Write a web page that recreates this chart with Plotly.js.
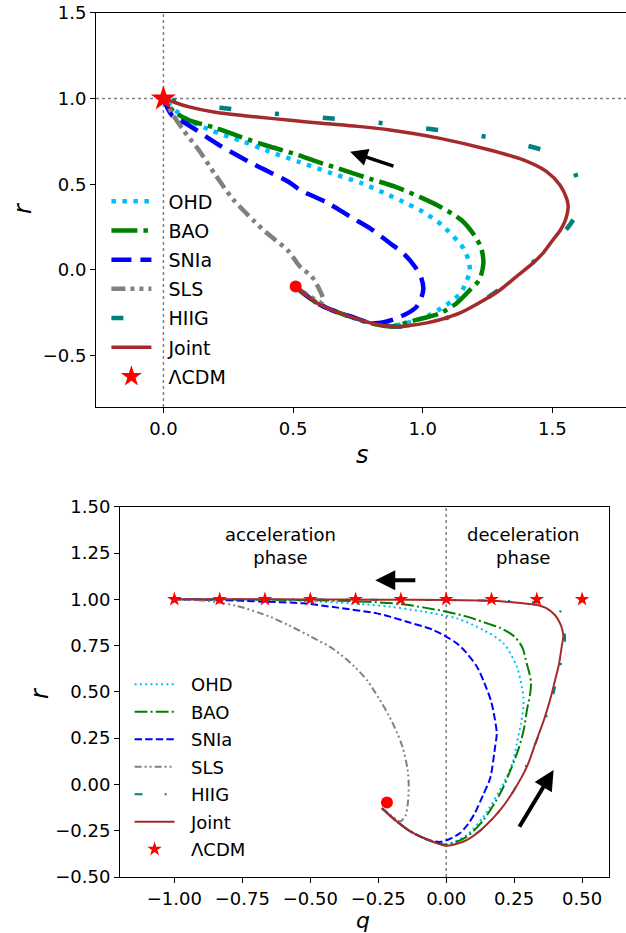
<!DOCTYPE html>
<html>
<head>
<meta charset="utf-8">
<script src="https://cdn.plot.ly/plotly-3.0.1.min.js"></script>
<style>
html,body{margin:0;padding:0;background:#fff;}
#chart{width:626px;height:933px;}
</style>
</head>
<body>
<div id="chart"></div>
<script>
// ---------- Top panel: {s, r} plane ----------
const seriesNames = ['OHD','BAO','SNIa','SLS','HIIG','Joint'];
const lcdmName = 'ΛCDM';

const topS_OHD = [0.509,0.592,0.65,0.72,0.8,0.88,0.95,1.015,1.07,1.118,1.15,1.17,1.182,1.176,1.16,1.137,1.073,1.0,0.924,0.867,0.765,0.649,0.52,0.392,0.308,0.18,0.08,0];
const topR_OHD = [-0.099,-0.193,-0.235,-0.273,-0.31,-0.325,-0.305,-0.272,-0.225,-0.175,-0.127,-0.06,-0.01,0.058,0.12,0.165,0.263,0.34,0.398,0.438,0.506,0.564,0.632,0.7,0.749,0.817,0.89,1];

const topS_BAO = [0.509,0.592,0.65,0.72,0.8,0.88,0.951,1.02,1.067,1.131,1.182,1.218,1.234,1.225,1.2,1.15,1.067,0.99,0.893,0.8,0.7,0.6,0.5,0.4,0.3,0.2,0.1,0.04,0];
const topR_BAO = [-0.099,-0.193,-0.235,-0.273,-0.31,-0.33,-0.301,-0.275,-0.253,-0.194,-0.117,-0.058,0.039,0.13,0.2,0.29,0.369,0.425,0.486,0.53,0.58,0.628,0.68,0.725,0.775,0.83,0.873,0.925,1];

const topS_SNIa = [0.509,0.592,0.65,0.72,0.81,0.9,0.977,1.002,0.995,0.97,0.93,0.874,0.8,0.72,0.636,0.527,0.482,0.353,0.225,0.096,0.032,0];
const topR_SNIa = [-0.099,-0.193,-0.235,-0.27,-0.311,-0.282,-0.214,-0.117,-0.05,0.019,0.09,0.156,0.24,0.311,0.389,0.467,0.515,0.613,0.72,0.846,0.904,1];

const topS_SLS = [0.509,0.56,0.61,0.617,0.6,0.572,0.527,0.482,0.4,0.353,0.27,0.2,0.141,0.08,0.039,0];
const topR_SLS = [-0.099,-0.15,-0.19,-0.175,-0.11,-0.039,0.019,0.11,0.214,0.28,0.41,0.555,0.69,0.81,0.9,1];

const topS_HIIG = [0.509,0.592,0.65,0.72,0.8,0.886,0.95,1.016,1.08,1.144,1.22,1.3,1.36,1.425,1.471,1.51,1.545,1.575,1.594,1.605,1.6,1.574,1.5,1.394,1.30,1.202,1.006,0.809,0.611,0.418,0.219,0.1,0];
const topR_HIIG = [-0.099,-0.193,-0.235,-0.273,-0.31,-0.332,-0.325,-0.309,-0.285,-0.251,-0.19,-0.11,-0.035,0.045,0.097,0.16,0.22,0.28,0.334,0.42,0.5,0.607,0.68,0.729,0.76,0.788,0.827,0.862,0.889,0.914,0.947,0.975,1];

const topS_Joint = [0.509,0.592,0.65,0.72,0.8,0.886,0.95,1.016,1.08,1.144,1.22,1.298,1.36,1.425,1.465,1.502,1.53,1.55,1.561,1.555,1.529,1.478,1.388,1.259,1.067,0.874,0.75,0.611,0.5,0.353,0.2,0.095,0.03,0];
const topR_Joint = [-0.099,-0.193,-0.235,-0.273,-0.31,-0.332,-0.325,-0.309,-0.285,-0.251,-0.19,-0.117,-0.04,0.04,0.1,0.175,0.23,0.29,0.37,0.418,0.496,0.574,0.642,0.70,0.768,0.817,0.838,0.856,0.872,0.894,0.92,0.953,0.985,1];

const topLcdmS = [0];
const topLcdmR = [1];
const topStartS = [0.51];
const topStartR = [-0.097];

const topArrowTail = [0.893, 0.603];
const topArrowHead = [0.72, 0.69];

// ---------- Bottom panel: {q, r} plane ----------
const botQ_OHD = [-0.236,-0.19,-0.13,-0.065,0.002,0.076,0.137,0.211,0.245,0.26,0.275,0.284,0.284,0.278,0.26,0.211,0.137,0.039,-0.083,-0.206,-0.35,-0.5,-0.75,-1];
const botR_OHD = [-0.129,-0.19,-0.255,-0.3,-0.322,-0.273,-0.174,0.006,0.12,0.222,0.33,0.42,0.47,0.528,0.636,0.762,0.834,0.897,0.933,0.96,0.978,0.99,0.998,1];

const botQ_BAO = [-0.236,-0.19,-0.13,-0.065,0.002,0.076,0.137,0.199,0.24,0.268,0.286,0.297,0.309,0.312,0.306,0.296,0.28,0.25,0.2,0.15,0.08,0.002,-0.08,-0.169,-0.292,-0.5,-0.75,-1];
const botR_BAO = [-0.129,-0.19,-0.255,-0.3,-0.325,-0.282,-0.192,-0.048,0.09,0.2,0.3,0.401,0.491,0.55,0.6,0.654,0.74,0.8,0.845,0.87,0.905,0.933,0.955,0.975,0.987,0.995,0.999,1];

const botQ_SNIa = [-0.236,-0.19,-0.13,-0.065,-0.02,0.02,0.05,0.08,0.105,0.135,0.162,0.18,0.186,0.175,0.165,0.14,0.113,0.075,0.039,-0.047,-0.145,-0.206,-0.255,-0.4,-0.525,-0.672,-0.831,-1];
const botR_SNIa = [-0.129,-0.19,-0.255,-0.3,-0.31,-0.29,-0.264,-0.215,-0.156,-0.06,0.035,0.204,0.276,0.385,0.45,0.55,0.636,0.71,0.762,0.834,0.879,0.906,0.924,0.955,0.978,0.987,0.996,1];

const botQ_SLS = [-0.236,-0.2,-0.17,-0.15,-0.14,-0.138,-0.142,-0.16,-0.181,-0.21,-0.25,-0.29,-0.34,-0.414,-0.5,-0.58,-0.647,-0.77,-0.892,-1];
const botR_SLS = [-0.129,-0.17,-0.2,-0.17,-0.084,0.0,0.08,0.2,0.28,0.37,0.47,0.56,0.64,0.73,0.8,0.86,0.905,0.964,0.993,1];

const botQ_HIIG = [-0.236,-0.19,-0.13,-0.065,0.002,0.076,0.14,0.199,0.25,0.3,0.339,0.382,0.407,0.425,0.437,0.436,0.431,0.425,0.41,0.39,0.36,0.32,0.25,0.15,0,-0.25,-0.5,-0.75,-1];
const botR_HIIG = [-0.129,-0.19,-0.255,-0.3,-0.331,-0.3,-0.23,-0.138,-0.03,0.12,0.258,0.42,0.564,0.67,0.754,0.82,0.89,0.924,0.95,0.97,0.98,0.985,0.99,0.993,0.996,0.998,0.999,1,1];

const botQ_Joint = [-0.236,-0.19,-0.13,-0.065,0.002,0.076,0.14,0.199,0.25,0.297,0.33,0.36,0.382,0.40,0.415,0.425,0.431,0.428,0.419,0.4,0.37,0.33,0.284,0.22,0.162,0,-0.25,-0.5,-0.75,-1];
const botR_Joint = [-0.129,-0.19,-0.255,-0.3,-0.331,-0.3,-0.23,-0.138,-0.03,0.096,0.23,0.35,0.456,0.56,0.65,0.744,0.8,0.83,0.87,0.915,0.951,0.97,0.978,0.987,0.992,0.996,0.998,0.999,1,1];

const botLcdmQ = [-1,-0.8333,-0.6667,-0.5,-0.3333,-0.1667,0,0.1667,0.3333,0.5];
const botLcdmR = [1,1,1,1,1,1,1,1,1,1];
const botStartQ = [-0.218];
const botStartR = [-0.097];

const botArrow1Tail = [-0.108, 1.103];
const botArrow1Head = [-0.261, 1.103];
const botArrow2Tail = [0.266, -0.237];
const botArrow2Head = [0.395, 0.078];

const phaseLabels = ['acceleration<br>phase', 'deceleration<br>phase'];
const phaseQ = [-0.61, 0.284];
const phaseR = [1.29, 1.29];

const axisTitles = ['<i>s</i>', '<i>r</i>', '<i>q</i>', '<i>r</i>'];

const refS = 0, refR = 1, refQ = 0;

// ---------- styles ----------
const colors = {OHD:'#00bfff', BAO:'#008000', SNIa:'#0000ff', SLS:'#808080', HIIG:'#008080', Joint:'#a52a2a'};
const topDash = {OHD:'4.5px,6.5px', BAO:'26px,6px,4.5px,6px', SNIa:'20px,9px', SLS:'14px,5px,4px,5px,4px,5px', HIIG:'12px,44px,4px,44px', Joint:'solid'};
const botDash = {OHD:'2px,3.3px', BAO:'12.8px,3.2px,2px,3.2px', SNIa:'7.4px,3.2px', SLS:'7px,3px,2px,3px,2px,3px', HIIG:'8px,22px,2px,22px', Joint:'solid'};
const topWidth = {OHD:4.5, BAO:4.5, SNIa:4.5, SLS:4.5, HIIG:4.5, Joint:3.5};
const botWidth = {OHD:2, BAO:2, SNIa:2, SLS:2, HIIG:2, Joint:2};

const topData = {
  OHD:[topS_OHD, topR_OHD], BAO:[topS_BAO, topR_BAO], SNIa:[topS_SNIa, topR_SNIa],
  SLS:[topS_SLS, topR_SLS], HIIG:[topS_HIIG, topR_HIIG], Joint:[topS_Joint, topR_Joint]
};
const botData = {
  OHD:[botQ_OHD, botR_OHD], BAO:[botQ_BAO, botR_BAO], SNIa:[botQ_SNIa, botR_SNIa],
  SLS:[botQ_SLS, botR_SLS], HIIG:[botQ_HIIG, botR_HIIG], Joint:[botQ_Joint, botR_Joint]
};

const FONT = 'DejaVu Sans, sans-serif';
const PAD = '\u00a0\u00a0';
const traces = [];
seriesNames.forEach(n => {
  traces.push({
    x: topData[n][0], y: topData[n][1], xaxis:'x', yaxis:'y', type:'scatter', mode:'lines', name:PAD + n,
    line:{color:colors[n], width:topWidth[n], dash:topDash[n], shape:'spline', smoothing:0.8},
    legend:'legend', legendgroup:'t_' + n
  });
});
traces.push({x:topStartS, y:topStartR, xaxis:'x', yaxis:'y', type:'scatter', mode:'markers', showlegend:false,
  marker:{color:'red', size:12, symbol:'circle'}});
traces.push({x:topLcdmS, y:topLcdmR, xaxis:'x', yaxis:'y', type:'scatter', mode:'markers', name:PAD + lcdmName,
  marker:{color:'red', size:19, symbol:'star', line:{width:0}}, legend:'legend', legendgroup:'t_lcdm'});

seriesNames.forEach(n => {
  traces.push({
    x: botData[n][0], y: botData[n][1], xaxis:'x2', yaxis:'y2', type:'scatter', mode:'lines', name:PAD + n,
    line:{color:colors[n], width:botWidth[n], dash:botDash[n], shape:'spline', smoothing:0.8},
    legend:'legend2', legendgroup:'b_' + n
  });
});
traces.push({x:botStartQ, y:botStartR, xaxis:'x2', yaxis:'y2', type:'scatter', mode:'markers', showlegend:false,
  marker:{color:'red', size:12, symbol:'circle'}});
traces.push({x:botLcdmQ, y:botLcdmR, xaxis:'x2', yaxis:'y2', type:'scatter', mode:'markers', name:PAD + lcdmName,
  marker:{color:'red', size:11, symbol:'star', line:{width:0}}, legend:'legend2', legendgroup:'b_lcdm'});

const axisBase = {
  showline:true, linecolor:'#000', linewidth:1, mirror:true, ticks:'outside', ticklen:5, tickwidth:1,
  tickcolor:'#000', showgrid:false, zeroline:false, tickfont:{family:FONT, size:18, color:'#000'}, automargin:false
};

function arrow(xr, yr, tail, head, w) {
  return {xref:xr, yref:yr, axref:xr, ayref:yr, x:head[0], y:head[1], ax:tail[0], ay:tail[1],
    showarrow:true, arrowhead:2, arrowsize:1, arrowwidth:w, arrowcolor:'#000', text:''};
}

const annotations = [
  arrow('x','y', topArrowTail, topArrowHead, 3.5),
  arrow('x2','y2', botArrow1Tail, botArrow1Head, 4),
  arrow('x2','y2', botArrow2Tail, botArrow2Head, 4)
];
phaseLabels.forEach((t,i) => annotations.push({xref:'x2', yref:'y2', x:phaseQ[i], y:phaseR[i], text:t,
  showarrow:false, font:{family:FONT, size:18, color:'#000'}, xanchor:'center', yanchor:'middle'}));

// axis titles placed as paper annotations (pixel positions converted to paper fractions)
const W = 626, H = 933;
const titlePos = [[362, 455, 0, 24], [23, 208, -90, 24], [363, 920, 0, 22], [40, 693, -90, 24]];
axisTitles.forEach((t,i) => annotations.push({xref:'paper', yref:'paper', x:titlePos[i][0]/W, y:1 - titlePos[i][1]/H,
  text:t, textangle:titlePos[i][2], showarrow:false, font:{family:FONT, size:titlePos[i][3], color:'#000'}, xanchor:'center', yanchor:'middle'}));

const layout = {
  width:W, height:H, margin:{l:0,r:0,t:0,b:0}, paper_bgcolor:'#fff', plot_bgcolor:'#fff',
  font:{family:FONT, color:'#000'},
  xaxis: Object.assign({}, axisBase, {domain:[0.1534,1], range:[-0.26,1.784], tickvals:[0,0.5,1,1.5], tickformat:'.1f'}),
  yaxis: Object.assign({}, axisBase, {domain:[0.5638,0.9861], range:[-0.8,1.5], tickvals:[-0.5,0,0.5,1,1.5], tickformat:'.1f'}),
  xaxis2: Object.assign({}, axisBase, {domain:[0.1917,0.9733], range:[-1.2,0.6], anchor:'y2', tickvals:[-1,-0.75,-0.5,-0.25,0,0.25,0.5], tickformat:'.2f'}),
  yaxis2: Object.assign({}, axisBase, {domain:[0.06,0.4569], range:[-0.5,1.5], anchor:'x2', tickvals:[-0.5,-0.25,0,0.25,0.5,0.75,1,1.25,1.5], tickformat:'.2f'}),
  shapes: [
    {type:'line', xref:'x', yref:'paper', x0:refS, x1:refS, y0:0.5638, y1:0.9861, line:{color:'gray', width:1.5, dash:'dot'}, layer:'below'},
    {type:'line', xref:'paper', yref:'y', x0:0.1534, x1:1, y0:refR, y1:refR, line:{color:'gray', width:1.5, dash:'dot'}, layer:'below'},
    {type:'line', xref:'x2', yref:'paper', x0:refQ, x1:refQ, y0:0.06, y1:0.4569, line:{color:'gray', width:1.5, dash:'dot'}, layer:'below'}
  ],
  annotations: annotations,
  legend: {x:0.17, y:0.8045, xanchor:'left', yanchor:'top', bgcolor:'rgba(0,0,0,0)', borderwidth:0,
    font:{family:FONT, size:19, color:'#000'}, itemwidth:40, traceorder:'grouped', tracegroupgap:1.5},
  legend2: {x:0.207, y:0.2862, xanchor:'left', yanchor:'top', bgcolor:'rgba(0,0,0,0)', borderwidth:0,
    font:{family:FONT, size:18, color:'#000'}, itemwidth:40, traceorder:'grouped', tracegroupgap:1.1},
  showlegend:true
};

Plotly.newPlot('chart', traces, layout, {staticPlot:true, displayModeBar:false});
</script>
</body>
</html>
